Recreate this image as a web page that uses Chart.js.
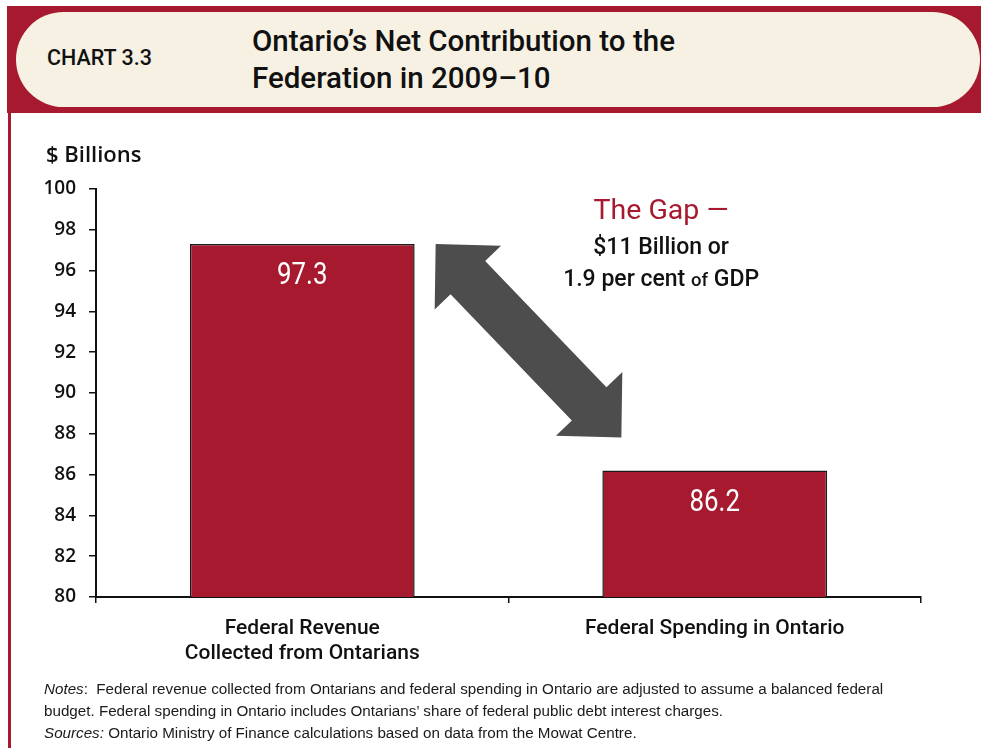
<!DOCTYPE html>
<html>
<head>
<meta charset="utf-8">
<script src="https://cdn.jsdelivr.net/npm/chart.js@4.4.1/dist/chart.umd.min.js"></script>
<style>
  html, body { margin: 0; padding: 0; background: #fff; }
  body { width: 981px; height: 748px; position: relative; overflow: hidden; font-family: "Liberation Sans", Arial, sans-serif; color: #111; }
  #band { position: absolute; left: 7px; top: 6px; width: 974px; height: 107px; background: #A6192E; }
  #pill { position: absolute; left: 16px; top: 12px; width: 964px; height: 95px; border-radius: 48px; background: #F7F1E3; }
  #edge { position: absolute; left: 8px; top: 113px; width: 3px; height: 635px; background: #A6192E; }
  #chartNo { position: absolute; left: 47px; top: 45px; font-family: Roboto, sans-serif; font-weight: 500; font-size: 21.5px; line-height: 26px; white-space: nowrap; }
  #title { position: absolute; left: 252px; top: 23px; font-family: Roboto, sans-serif; font-weight: 500; font-size: 29.5px; line-height: 37px; white-space: nowrap; }
  #notes { position: absolute; left: 44px; top: 678px; font-size: 15.2px; line-height: 22px; white-space: nowrap; color: #1a1a1a; }
  #notes i { font-style: italic; }
  canvas { position: absolute; left: 0; top: 0; }
</style>
</head>
<body>
<div id="band"></div>
<div id="pill"></div>
<div id="edge"></div>
<div id="chartNo">CHART 3.3</div>
<div id="title">Ontario’s Net Contribution to the<br>Federation in 2009–10</div>
<canvas id="chart" width="981" height="748"></canvas>
<div id="notes"><i>Notes</i>:&nbsp; Federal revenue collected from Ontarians and federal spending in Ontario are adjusted to assume a balanced federal<br>budget. Federal spending in Ontario includes Ontarians’ share of federal public debt interest charges.<br><i>Sources:</i> Ontario Ministry of Finance calculations based on data from the Mowat Centre.</div>

<script>
// Bars: federal revenue collected vs. federal spending, $ billions
const categories = [['Federal Revenue', 'Collected from Ontarians'], 'Federal Spending in Ontario'];
const values = [97.3, 86.2];
const yTicks = { min: 80, max: 100, step: 2 };
const axisTitle = '$ Billions';
const gapLines = ['The Gap —', '$11 Billion or'];
const gapShare = ['1.9 per cent ', 'of', ' GDP'];

const CRIMSON = '#A6192E';
const ARROW = '#4D4D4D';
const SANS = 'Roboto, "Liberation Sans", sans-serif';
const TICKFONT = '"Open Sans", "Noto Sans", sans-serif';

function doubleArrow(ctx, x1, y1, x2, y2, headLen, headHalf, shaftHalf) {
  const dx = x2 - x1, dy = y2 - y1, L = Math.hypot(dx, dy);
  const ux = dx / L, uy = dy / L, nx = -uy, ny = ux;
  const P = (a, n) => [x1 + ux * a + nx * n, y1 + uy * a + ny * n];
  const pts = [
    P(0, 0), P(headLen, headHalf), P(headLen, shaftHalf),
    P(L - headLen, shaftHalf), P(L - headLen, headHalf), P(L, 0),
    P(L - headLen, -headHalf), P(L - headLen, -shaftHalf),
    P(headLen, -shaftHalf), P(headLen, -headHalf)
  ];
  ctx.beginPath();
  pts.forEach((p, i) => i ? ctx.lineTo(p[0], p[1]) : ctx.moveTo(p[0], p[1]));
  ctx.closePath();
  ctx.fill();
}

const annotate = {
  id: 'annotate',
  afterDatasetsDraw(chart) {
    const { ctx, scales: { x, y } } = chart;
    const bars = chart.getDatasetMeta(0).data;
    ctx.save();

    // value labels inside the bars
    ctx.fillStyle = '#fff';
    ctx.textAlign = 'center';
    ctx.textBaseline = 'alphabetic';
    bars.forEach((bar, i) => {
      ctx.save();
      ctx.translate(bar.x, bar.y + 40);
      ctx.scale(0.82, 1);
      ctx.font = '31.5px ' + SANS;
      ctx.fillText(values[i].toFixed(1), 0, 0);
      ctx.restore();
    });

    // double-headed arrow spanning the gap between the two bars
    const b0 = bars[0].getProps(['x', 'y', 'width']);
    const b1 = bars[1].getProps(['x', 'y', 'width']);
    ctx.fillStyle = ARROW;
    doubleArrow(ctx, b0.x + b0.width / 2 + 21, b0.y, b1.x - b1.width / 2 + 19, b1.y - 33, 46.5, 46, 24);

    // gap annotation
    const cx = x.getPixelForValue(0.87);
    ctx.textAlign = 'center';
    ctx.fillStyle = CRIMSON;
    ctx.font = '28.5px ' + SANS;
    ctx.fillText(gapLines[0], cx, 219);
    ctx.fillStyle = '#111';
    ctx.font = '500 23px ' + SANS;
    ctx.fillText(gapLines[1], cx, 254);
    const sizes = [23, 18.5, 23];
    const widths = gapShare.map((t, i) => { ctx.font = '500 ' + sizes[i] + 'px ' + SANS; return ctx.measureText(t).width; });
    let left = cx - widths.reduce((a, b) => a + b, 0) / 2;
    ctx.textAlign = 'left';
    gapShare.forEach((t, i) => {
      ctx.font = '500 ' + sizes[i] + 'px ' + SANS;
      ctx.fillText(t, left, 286);
      left += widths[i];
    });

    // unit label above the value axis
    ctx.font = '600 22px ' + TICKFONT;
    ctx.fillStyle = '#111';
    ctx.fillText(axisTitle, 46, 162);
    ctx.restore();
  }
};

Chart.defaults.color = '#111';

new Chart(document.getElementById('chart'), {
  type: 'bar',
  data: {
    labels: categories,
    datasets: [{
      data: values,
      backgroundColor: CRIMSON,
      borderColor: '#1a1a1a',
      borderWidth: 1.5,
      barPercentage: 0.545,
      categoryPercentage: 1.0
    }]
  },
  options: {
    responsive: false,
    animation: false,
    devicePixelRatio: 1,
    layout: { padding: { left: 0, top: 189, right: 60, bottom: 0 } },
    plugins: { legend: { display: false }, tooltip: { enabled: false } },
    scales: {
      x: {
        offset: true,
        grid: { display: true, drawOnChartArea: false, offset: true, tickLength: 6, color: '#111', lineWidth: 1.5 },
        border: { display: true, color: '#111', width: 2 },
        ticks: { color: '#111', padding: 13, font: { family: SANS, size: 21, weight: '500', lineHeight: 1.2 }, maxRotation: 0, autoSkip: false },
        afterFit(scale) { scale.height = 151; }
      },
      y: {
        min: yTicks.min,
        max: yTicks.max,
        grid: { drawOnChartArea: false, tickLength: 7, color: '#111', lineWidth: 1.5 },
        border: { display: true, color: '#111', width: 2 },
        ticks: { stepSize: yTicks.step, color: '#111', padding: 13, font: { family: TICKFONT, size: 19, weight: '600' } },
        afterFit(scale) { scale.width = 96; }
      }
    }
  },
  plugins: [annotate]
});
</script>
</body>
</html>
